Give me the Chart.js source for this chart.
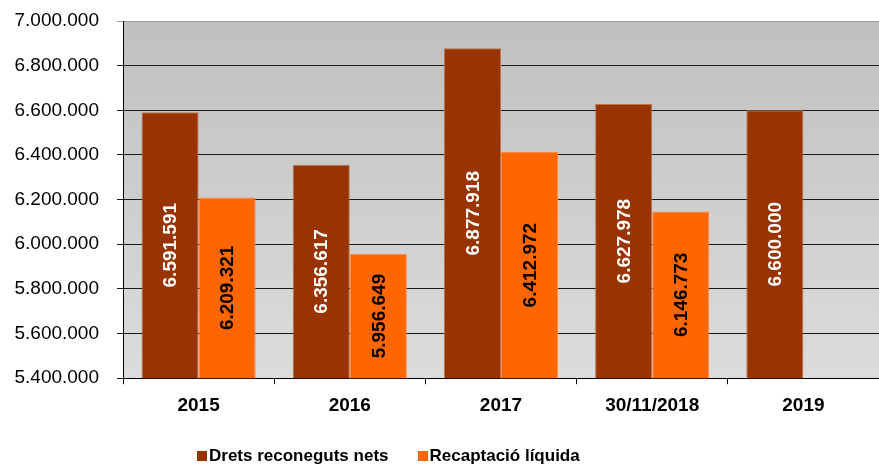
<!DOCTYPE html>
<html>
<head>
<meta charset="utf-8">
<script src="https://cdn.jsdelivr.net/npm/chart.js@4/dist/chart.umd.min.js"></script>
<style>
  html, body { margin: 0; padding: 0; background: #fff; }
  #wrap { position: relative; width: 879px; height: 464px; }
  #legend { position: absolute; top: 446px; left: 197px; font: bold 17px "Liberation Sans", Arial, sans-serif; color: #000; white-space: nowrap; line-height: 20px; }
  #legend span.sw { display: inline-block; width: 10px; height: 10px; margin-right: 2px; vertical-align: 0px; }
  #legend span.item { margin-right: 29px; }
</style>
</head>
<body>
<div id="wrap">
  <canvas id="grafic" width="879" height="464"></canvas>
  <div id="legend"></div>
</div>
<script>
// dades del gràfic
const categories = ['2015', '2016', '2017', '30/11/2018', '2019'];
const drets = [6591591, 6356617, 6877918, 6627978, 6600000];
const recaptacio = [6209321, 5956649, 6412972, 6146773, null];
const nomsSeries = ['Drets reconeguts nets', 'Recaptació líquida'];

const colors = { marro: '#993300', taronja: '#FF6600' };
const fontFamily = 'Liberation Sans, Arial, sans-serif';

function formatNum(v) {
    return String(Math.round(v)).replace(/\B(?=(\d{3})+(?!\d))/g, '.');
}

// fons degradat de l'àrea del gràfic
const fonsPlugin = {
    id: 'fons',
    beforeDraw(chart) {
        const { ctx, chartArea: a } = chart;
        const g = ctx.createLinearGradient(0, a.top, 0, a.bottom);
        g.addColorStop(0, '#c0c0c0');
        g.addColorStop(1, '#dcdcdc');
        ctx.save();
        ctx.fillStyle = g;
        ctx.fillRect(a.left, a.top, a.right - a.left, a.bottom - a.top);
        ctx.restore();
    }
};

// etiquetes verticals dins les barres (centrades a la part visible)
const etiquetesPlugin = {
    id: 'etiquetes',
    afterDraw(chart) {
        const ctx = chart.ctx;
        const baix = chart.chartArea.bottom;
        ctx.save();
        ctx.font = 'bold 19px ' + fontFamily;
        ctx.textAlign = 'center';
        ctx.textBaseline = 'middle';
        chart.data.datasets.forEach((ds, i) => {
            const meta = chart.getDatasetMeta(i);
            meta.data.forEach((bar, j) => {
                const v = ds.data[j];
                if (v == null) return;
                const y = (bar.y + Math.min(bar.base, baix)) / 2;
                ctx.save();
                ctx.translate(bar.x, y);
                ctx.rotate(-Math.PI / 2);
                ctx.fillStyle = i === 0 ? '#ffffff' : '#000000';
                ctx.fillText(formatNum(v), 0, 1);
                ctx.restore();
            });
        });
        ctx.restore();
    }
};

new Chart(document.getElementById('grafic').getContext('2d'), {
    type: 'bar',
    data: {
        labels: categories,
        datasets: [{
            label: nomsSeries[0],
            data: drets,
            backgroundColor: colors.marro,
            borderColor: '#b8734f',
            borderWidth: 1,
            barPercentage: 1,
            categoryPercentage: 0.755
        }, {
            label: nomsSeries[1],
            data: recaptacio,
            backgroundColor: colors.taronja,
            borderColor: '#ff8a4a',
            borderWidth: 1,
            barPercentage: 1,
            categoryPercentage: 0.755
        }]
    },
    options: {
        responsive: false,
        animation: false,
        layout: { padding: { top: 21, right: 0, bottom: 37, left: 0 } },
        scales: {
            x: {
                grid: { display: true, drawOnChartArea: false, offset: true, color: '#000', tickLength: 6 },
                border: { color: '#000', width: 1 },
                ticks: { color: '#000', font: { family: fontFamily, size: 19, weight: 'bold' }, padding: 10 }
            },
            y: {
                min: 5400000,
                max: 7000000,
                afterFit(scale) {
                    scale.width = 123;
                    scale.paddingTop = 0;
                    scale.paddingBottom = 0;
                },
                grid: {
                    color: ctx => ctx.tick && ctx.tick.value === 7000000 ? '#9a9a9a' : '#1a1a1a',
                    tickLength: 6
                },
                border: { color: '#000', width: 1 },
                ticks: {
                    stepSize: 200000,
                    color: '#000',
                    padding: 18,
                    font: { family: fontFamily, size: 19 },
                    callback: v => formatNum(v)
                }
            }
        },
        plugins: {
            legend: { display: false },
            tooltip: { enabled: false }
        }
    },
    plugins: [fonsPlugin, etiquetesPlugin]
});

// llegenda
const leg = document.getElementById('legend');
[colors.marro, colors.taronja].forEach((c, i) => {
    const item = document.createElement('span');
    item.className = 'item';
    const sw = document.createElement('span');
    sw.className = 'sw';
    sw.style.background = c;
    item.appendChild(sw);
    item.appendChild(document.createTextNode(nomsSeries[i]));
    leg.appendChild(item);
});
</script>
</body>
</html>
